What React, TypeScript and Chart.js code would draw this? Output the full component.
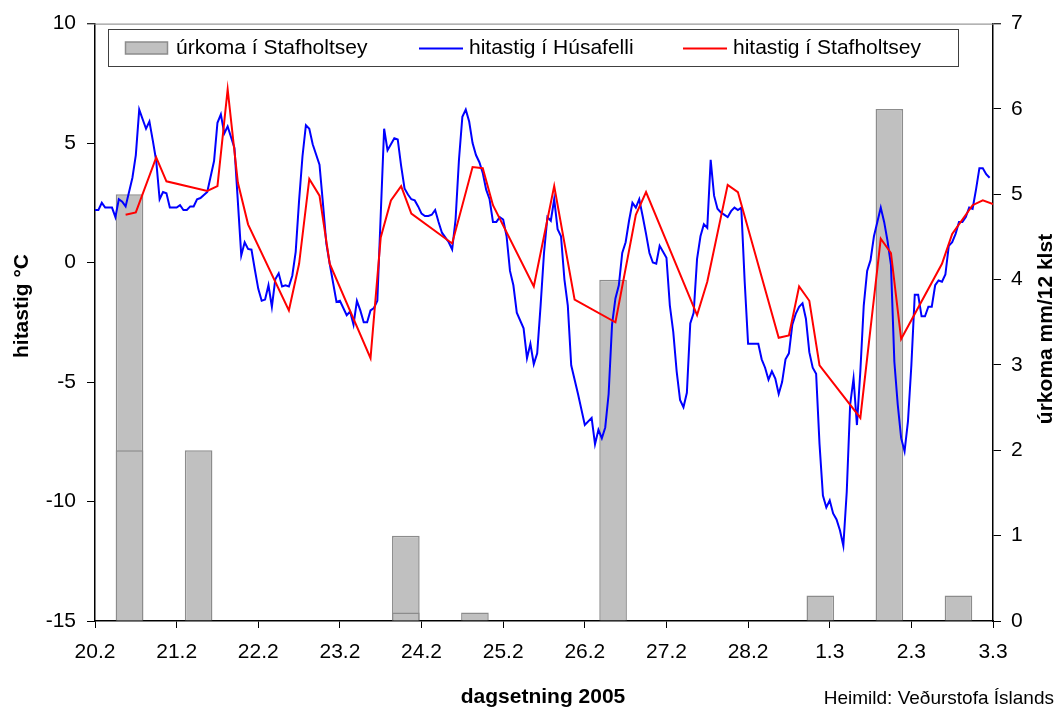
import React, { useEffect, useRef } from "react";
import { Chart, registerables } from "chart.js";

Chart.register(...registerables);

// x-axis tick labels (one per day, 00:00)
const dateLabels = ["20.2", "21.2", "22.2", "23.2", "24.2", "25.2", "26.2", "27.2", "28.2", "1.3", "2.3", "3.3"];

// precipitation periods (category slots of the bar axis)
const precipPeriods = ["P1", "P2", "P3", "P4", "P5", "P6", "P7", "P8", "P9", "P10", "P11", "P12", "P13"];
// úrkoma í Stafholtsey, mm/12 klst (total bar height)
const precipTotal = [5, 2, 0, 0, 1, 0.1, 0, 4, 0, 0, 0.3, 6, 0.3];
// the lower, overlapping observation drawn inside some bars
const precipInner = [2, null, null, null, 0.1, null, null, null, null, null, null, null, null];

// hitastig í Húsafelli, hourly from 20.2 00:00 (null = no visible vertex)
const husafelliTemp = [
  2.2, 2.2, 2.5, 2.3, 2.3, 2.3, 1.9, 2.65, 2.55, 2.35, null, 3.55, 4.5, 6.4, null, 5.6, 5.9, 5.1, 4.25, 2.65, 2.95, 2.9, 2.3, 2.3,
  2.3, 2.4, 2.2, 2.2, 2.35, 2.35, 2.65, 2.7, null, 2.95, null, 4.25, 5.85, 6.2, 5.4, 5.7, null, 4.8, null, 0.3, 0.85, 0.57, 0.54, -0.3,
  -1.1, -1.6, -1.55, -0.95, -1.85, -0.7, -0.45, -1.0, -0.95, -1.0, -0.55, 0.45, 2.6, 4.45, 5.75, 5.6, 4.95, null, 4.1, 2.5, 0.8, -0.05, null, -1.65,
  -1.6, null, -2.2, -2.05, -2.6, -1.6, -2.0, -2.5, -2.5, -2.0, -1.9, -1.6, 2.0, 5.6, 4.7, 4.95, 5.2, 5.15, 4.05, 3.1, 2.85, 2.65, 2.6, 2.35,
  2.05, 1.95, 1.95, 2.0, 2.2, 1.7, 1.25, null, 0.85, 0.55, 1.8, 4.3, 6.1, 6.4, 5.9, 5.0, 4.5, 4.2, 3.75, 3.05, 2.65, 1.7, 1.7, 1.9,
  1.8, 1.1, -0.35, -0.95, -2.1, null, -2.75, -4.0, -3.4, -4.25, -3.8, -1.8, 0.4, 1.9, 1.75, 2.65, 1.4, 1.1, -0.7, -1.8, -4.3, null, -5.5, null,
  -6.8, null, -6.5, -7.6, -7.0, -7.35, -6.9, -5.5, -2.6, -1.5, -0.95, 0.4, 0.85, 1.75, 2.5, 2.3, 2.65, 1.95, 1.2, 0.4, 0.0, -0.05, 0.7, 0.45,
  0.2, -1.8, -2.9, -4.55, -5.75, -6.05, -5.45, -2.55, -2.1, 0.15, 1.1, 1.6, 1.45, 4.3, 2.8, 2.25, 2.1, null, 1.9, 2.15, 2.3, 2.2, 2.3, -0.8,
  -3.4, -3.4, -3.4, -3.4, -4.05, -4.4, -4.9, -4.55, -4.85, -5.5, -5.0, -4.05, -3.8, -2.6, -2.15, -1.85, -1.7, -2.35, -3.75, -4.4, -4.65, -7.6, -9.75, -10.25,
  -9.95, -10.5, -10.75, -11.2, -11.85, -9.6, -5.95, -4.85, -6.8, -4.55, -1.8, -0.35, 0.1, 1.1, 1.7, 2.3, 1.7, 0.9, -0.1, -4.15, -5.95, -7.35, -7.9, -6.65,
  -4.3, -1.35, -1.35, -2.25, -2.25, -1.85, -1.85, -0.95, -0.75, -0.8, -0.5, 0.7, 0.85, 1.2, 1.7, 1.7, 1.9, 2.3, 2.25, 3.05, 3.95, 3.95, 3.7, 3.55,
];

// hitastig í Stafholtsey: observation hour (from 20.2 00:00) and value
const stafholtseyHours = [9, 12, 18, 21, 33, 36, 39, 42, 45, 57, 60, 63, 66, 69, 81, 84, 87, 90, 93, 105, 111, 114, 117, 129, 135, 141, 153, 159, 162, 177, 180, 186, 189, 201, 204, 207, 210, 213, 225, 231, 234, 237, 249, 252, 258, 261, 264];
const stafholtseyTemp = [2.0, 2.1, 4.4, 3.4, 3.0, 3.2, 7.25, 3.35, 1.6, -2.0, -0.05, 3.5, 2.8, -0.05, -4.0, 1.05, 2.6, 3.2, 2.05, 0.8, 4.0, 3.95, 2.4, -1.0, 3.2, -1.55, -2.5, 2.0, 2.95, -2.2, -0.8, 3.25, 2.95, -3.15, -3.05, -1.0, -1.6, -4.3, -6.5, 1.0, 0.4, -3.2, -0.05, 1.2, 2.4, 2.6, 2.45];

const FONT = "'Liberation Sans', Arial, sans-serif";
const BAR_FILL = "#C0C0C0";
const BAR_EDGE = "#8C8C8C";

const decorPlugin = {
  id: "decor",
  afterDraw(chart: any) {
    const ctx = chart.ctx as CanvasRenderingContext2D;
    const area = chart.chartArea;
    ctx.save();
    // top border of plot area
    ctx.strokeStyle = "#808080";
    ctx.lineWidth = 1;
    ctx.beginPath();
    ctx.moveTo(area.left - 8, area.top + 0.5);
    ctx.lineTo(area.right + 8, area.top + 0.5);
    ctx.stroke();

    // legend
    ctx.fillStyle = "#FFFFFF";
    ctx.fillRect(108.5, 29.5, 850, 37);
    ctx.strokeStyle = "#404040";
    ctx.lineWidth = 1;
    ctx.strokeRect(108.5, 29.5, 850, 37);
    ctx.fillStyle = BAR_FILL;
    ctx.fillRect(125.5, 42, 42, 12);
    ctx.strokeStyle = BAR_EDGE;
    ctx.lineWidth = 1.5;
    ctx.strokeRect(125.5, 42, 42, 12);
    ctx.lineWidth = 2;
    ctx.strokeStyle = "#0000FF";
    ctx.beginPath();
    ctx.moveTo(419, 48.5);
    ctx.lineTo(463, 48.5);
    ctx.stroke();
    ctx.strokeStyle = "#FF0000";
    ctx.beginPath();
    ctx.moveTo(683, 48.5);
    ctx.lineTo(727, 48.5);
    ctx.stroke();
    ctx.fillStyle = "#000";
    ctx.font = `21px ${FONT}`;
    ctx.textBaseline = "middle";
    ctx.textAlign = "left";
    ctx.fillText("úrkoma í Stafholtsey", 176, 48);
    ctx.fillText("hitastig í Húsafelli", 469, 48);
    ctx.fillText("hitastig í Stafholtsey", 733, 48);

    // axis titles
    ctx.font = `bold 21px ${FONT}`;
    ctx.textAlign = "center";
    ctx.fillText("dagsetning 2005", 543, 697);
    ctx.save();
    ctx.translate(22, 306);
    ctx.rotate(-Math.PI / 2);
    ctx.fillText("hitastig °C", 0, 0);
    ctx.restore();
    ctx.save();
    ctx.translate(1046, 329);
    ctx.rotate(-Math.PI / 2);
    ctx.fillText("úrkoma mm/12 klst", 0, 0);
    ctx.restore();

    // source
    ctx.font = `19px ${FONT}`;
    ctx.textAlign = "right";
    ctx.fillText("Heimild: Veðurstofa Íslands", 1054, 699);
    ctx.restore();
  },
};

export default function App() {
  const canvasRef = useRef<HTMLCanvasElement | null>(null);

  useEffect(() => {
    document.body.style.margin = "0";
    const canvas = canvasRef.current;
    if (!canvas) return;
    const tickFont = { family: FONT, size: 21 };
    const chart = new Chart(canvas, {
      data: {
        labels: precipPeriods,
        datasets: [
          {
            type: "line",
            label: "hitastig í Stafholtsey",
            data: stafholtseyHours.map((h, i) => ({ x: h, y: stafholtseyTemp[i] })),
            xAxisID: "x",
            yAxisID: "y",
            borderColor: "#FF0000",
            borderWidth: 2,
            pointRadius: 0,
            tension: 0,
            order: 1,
          },
          {
            type: "line",
            label: "hitastig í Húsafelli",
            data: husafelliTemp.map((v, i) => ({ x: i, y: v })),
            xAxisID: "x",
            yAxisID: "y",
            borderColor: "#0000FF",
            borderWidth: 2,
            pointRadius: 0,
            tension: 0,
            spanGaps: true,
            order: 2,
          },
          {
            type: "bar",
            label: "úrkoma (innri)",
            data: precipInner,
            xAxisID: "xb",
            yAxisID: "y2",
            backgroundColor: BAR_FILL,
            borderColor: BAR_EDGE,
            borderWidth: 1.5,
            grouped: false,
            categoryPercentage: 1,
            barPercentage: 0.4,
            order: 3,
          },
          {
            type: "bar",
            label: "úrkoma í Stafholtsey",
            data: precipTotal,
            xAxisID: "xb",
            yAxisID: "y2",
            backgroundColor: BAR_FILL,
            borderColor: BAR_EDGE,
            borderWidth: 1.5,
            grouped: false,
            categoryPercentage: 1,
            barPercentage: 0.4,
            order: 4,
          },
        ],
      } as any,
      options: {
        responsive: false,
        animation: false,
        maintainAspectRatio: false,
        layout: { padding: { top: 20, left: 0, right: 0, bottom: 0 } },
        plugins: { legend: { display: false }, tooltip: { enabled: false } },
        scales: {
          x: {
            type: "linear",
            position: "bottom",
            min: 0,
            max: 264,
            ticks: {
              stepSize: 24,
              autoSkip: false,
              maxRotation: 0,
              color: "#000",
              font: tickFont,
              padding: 12,
              callback: (v: any) => dateLabels[Math.round(Number(v) / 24)] ?? "",
            },
            grid: { drawOnChartArea: false, drawTicks: true, tickLength: 7, color: "#000", lineWidth: 1 },
            border: { display: true, color: "#000", width: 1.5 },
            afterFit: (s: any) => {
              s.height = 94;
            },
          },
          xb: {
            type: "category",
            display: false,
            offset: true,
            grid: { offset: true },
          },
          y: {
            type: "linear",
            position: "left",
            min: -15,
            max: 10,
            ticks: { stepSize: 5, color: "#000", font: tickFont, padding: 11 },
            grid: { drawOnChartArea: false, drawTicks: true, tickLength: 8, color: "#000", lineWidth: 1 },
            border: { display: true, color: "#000", width: 1.5 },
            afterFit: (s: any) => {
              s.width = 95;
            },
          },
          y2: {
            type: "linear",
            position: "right",
            min: 0,
            max: 7,
            ticks: { stepSize: 1, color: "#000", font: tickFont, padding: 10 },
            grid: { drawOnChartArea: false, drawTicks: true, tickLength: 8, color: "#000", lineWidth: 1 },
            border: { display: true, color: "#000", width: 1.5 },
            afterFit: (s: any) => {
              s.width = 68;
            },
          },
        },
      } as any,
      plugins: [decorPlugin],
    });
    return () => {
      chart.destroy();
    };
  }, []);

  return (
    <div style={{ width: 1061, height: 715, background: "#fff" }}>
      <canvas ref={canvasRef} width={1061} height={715} style={{ display: "block" }} />
    </div>
  );
}
